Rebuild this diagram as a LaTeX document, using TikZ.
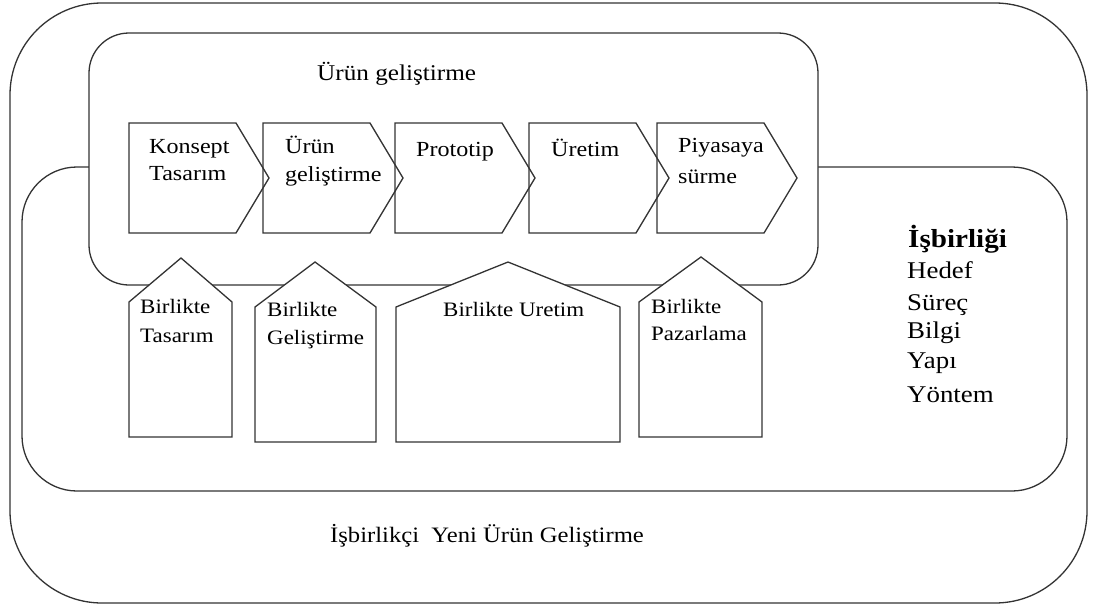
\documentclass[tikz,border=0pt]{standalone}
\usepackage{fontspec}
\setmainfont[FakeStretch=1.12]{Liberation Serif}
\begin{document}
\begin{tikzpicture}[x=1pt,y=-1pt]
\tikzset{
  frame/.style={draw=black!80, line width=1.3pt},
  shapebox/.style={draw=black!80, line width=1.3pt, line join=miter},
  lbl/.style={anchor=base west, inner sep=0pt, text=black},
  step text/.style={lbl, font=\fontsize{21.5}{26}\selectfont},
  house text/.style={lbl, font=\fontsize{20.5}{26}\selectfont},
  side text/.style={lbl, font=\fontsize{24}{30}\selectfont},
}
\useasboundingbox (0,0) rectangle (1096,608);
\fill[white] (0,0) rectangle (1096,608);

% outer frame: collaborative new product development
\draw[frame, rounded corners=92pt] (10,3) rectangle (1087,603);
% collaboration frame
\draw[frame, rounded corners=55pt] (22,167) rectangle (1067,491);
% product development frame
\draw[frame, fill=white, rounded corners=40pt] (89,33) rectangle (818,285);

\node[lbl, font=\fontsize{22.5}{28}\selectfont] (title) at (317,80) {Ürün geliştirme};

% process chevrons
\foreach \x/\n in {129/1, 263/2, 395/3, 529/4, 657/5}{
  \draw[shapebox] (\x,123) -- (\x+107,123) -- (\x+140,178) -- (\x+107,233)
        -- (\x,233) -- cycle;
}
\node[step text] (s1a) at (149,153) {Konsept};
\node[step text] (s1b) at (149,180) {Tasarım};
\node[step text] (s2a) at (285,153) {Ürün};
\node[step text] (s2b) at (285,181) {geliştirme};
\node[step text] (s3)  at (416,156) {Prototip};
\node[step text] (s4)  at (551,156) {Üretim};
\node[step text] (s5a) at (678,152) {Piyasaya};
\node[step text] (s5b) at (678,183) {sürme};

% joint activity houses
\draw[shapebox, fill=white] (129,437) -- (129,302) -- (181,258) -- (232,302) -- (232,437) -- cycle;
\draw[shapebox, fill=white] (255,442) -- (255,307) -- (315,262) -- (376,307) -- (376,442) -- cycle;
\draw[shapebox, fill=white] (396,442) -- (396,307) -- (508,262) -- (620,307) -- (620,442) -- cycle;
\draw[shapebox, fill=white] (639,437) -- (639,302) -- (701,257) -- (762,302) -- (762,437) -- cycle;

\node[house text] (h1a) at (140,313) {Birlikte};
\node[house text] (h1b) at (140,342) {Tasarım};
\node[house text] (h2a) at (267,316) {Birlikte};
\node[house text] (h2b) at (267,344) {Geliştirme};
\node[house text] (h3)  at (443,316) {Birlikte Uretim};
\node[house text] (h4a) at (651,313) {Birlikte};
\node[house text] (h4b) at (651,340) {Pazarlama};

% collaboration dimensions
\node[lbl, font=\fontsize{26}{30}\selectfont\bfseries] (isb) at (908,247) {İşbirliği};
\node[side text] (d1) at (907,278) {Hedef};
\node[side text] (d2) at (907,310) {Süreç};
\node[side text] (d3) at (907,338) {Bilgi};
\node[side text] (d4) at (907,368) {Yapı};
\node[side text] (d5) at (907,402) {Yöntem};

\node[lbl, font=\fontsize{22}{28}\selectfont] (bottom) at (330,542) {İşbirlikçi\ \ Yeni Ürün Geliştirme};
\end{tikzpicture}
\end{document}
